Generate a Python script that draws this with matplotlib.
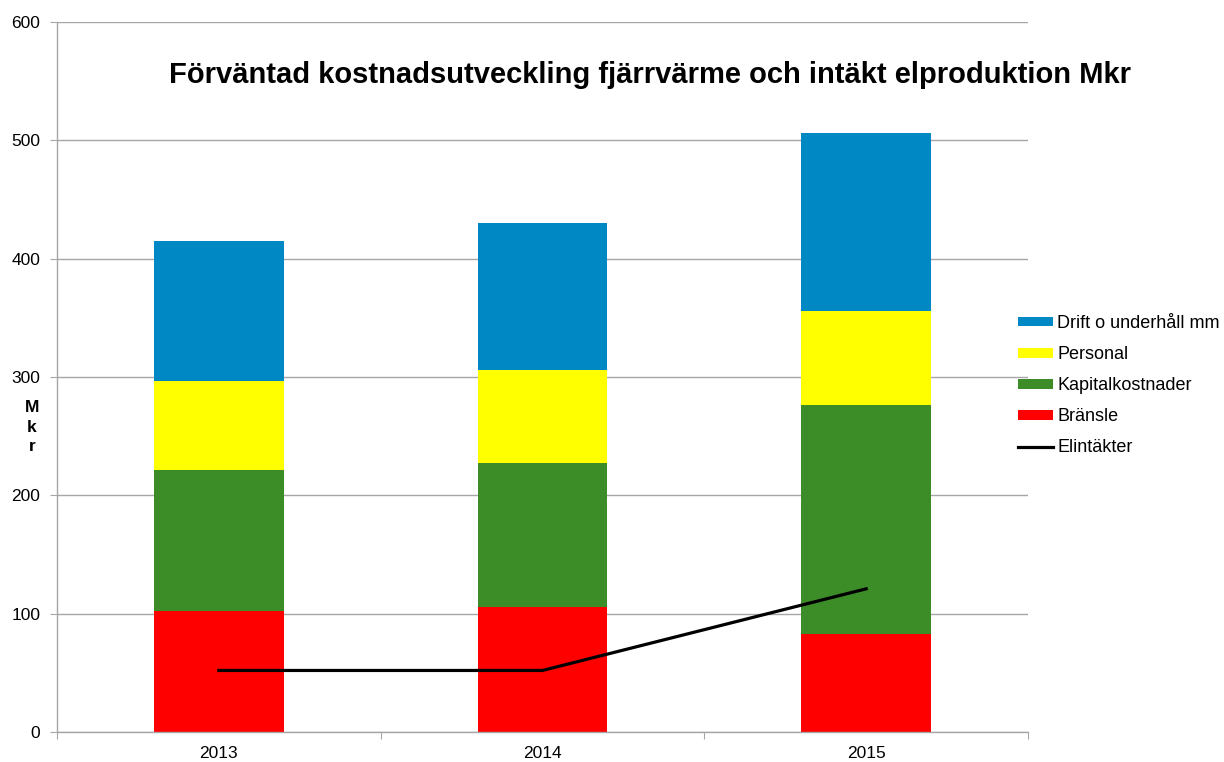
import matplotlib
matplotlib.use("Agg")
import matplotlib.pyplot as plt
import numpy as np

plt.rcParams['font.family'] = ['Liberation Sans', 'DejaVu Sans']

years = ["2013", "2014", "2015"]
bransle = [102, 106, 83]
kapital = [119, 121, 193]
personal = [76, 79, 80]
drift = [118, 124, 150]
elintakter = [52, 52, 121]

series_names = ["Bränsle", "Kapitalkostnader", "Personal", "Drift o underhåll mm"]
colors = ["#FF0000", "#3C8C28", "#FFFF00", "#0088C4"]

fig = plt.figure(figsize=(12.24, 7.62), dpi=100)
ax = fig.add_axes([57/1224, 30/762, (1028-57)/1224, (732-22)/762])

x = np.arange(len(years))
bottom = np.zeros(len(years))
handles = {}
for name, vals, c in zip(series_names, [bransle, kapital, personal, drift], colors):
    b = ax.bar(x, vals, width=0.4, bottom=bottom, color=c, label=name, zorder=2, linewidth=0)
    handles[name] = b
    bottom += np.array(vals)

ln, = ax.plot(x, elintakter, color="black", linewidth=2.3, label="Elintäkter", zorder=3)

ax.set_xlim(-0.5, 2.5)
ax.set_ylim(0, 600)
ax.set_yticks(np.arange(0, 601, 100))
ax.yaxis.grid(True, color="#A6A6A6", linewidth=1.0, zorder=0)
ax.set_axisbelow(True)

ax.set_xticks([-0.5, 0.5, 1.5, 2.5])
ax.set_xticklabels([])
ax.set_xticks(x, minor=True)
ax.set_xticklabels(years, minor=True)
ax.tick_params(axis="x", which="major", direction="out", length=5, color="#A6A6A6")
ax.tick_params(axis="x", which="minor", length=0, pad=10, labelsize=12.5)
ax.tick_params(axis="y", direction="out", length=5, color="#A6A6A6", labelsize=12.5, pad=7)

for s in ["top", "right"]:
    ax.spines[s].set_visible(False)
for s in ["left", "bottom"]:
    ax.spines[s].set_color("#A6A6A6")
    ax.spines[s].set_linewidth(1.0)

fig.text(650/1224, 1 - 75/762, "Förväntad kostnadsutveckling fjärrvärme och intäkt elproduktion Mkr",
         ha="center", va="center", fontsize=21, fontweight="bold")

fig.text(32/1224, 1 - 427/762, "M\nk\nr", ha="center", va="center", fontsize=12.5,
         fontweight="bold", linespacing=1.4)

leg_handles = [handles["Drift o underhåll mm"], handles["Personal"], handles["Kapitalkostnader"],
               handles["Bränsle"], ln]
leg_labels = ["Drift o underhåll mm", "Personal", "Kapitalkostnader", "Bränsle", "Elintäkter"]
leg = fig.legend(leg_handles, leg_labels, loc="upper left",
                 bbox_to_anchor=(1018/1224, 1 - 315/762), frameon=False, fontsize=13,
                 handlelength=1.95, handleheight=0.45, handletextpad=0.22, labelspacing=0.78,
                 borderaxespad=0, borderpad=0)

fig.savefig("out.png", dpi=100)
